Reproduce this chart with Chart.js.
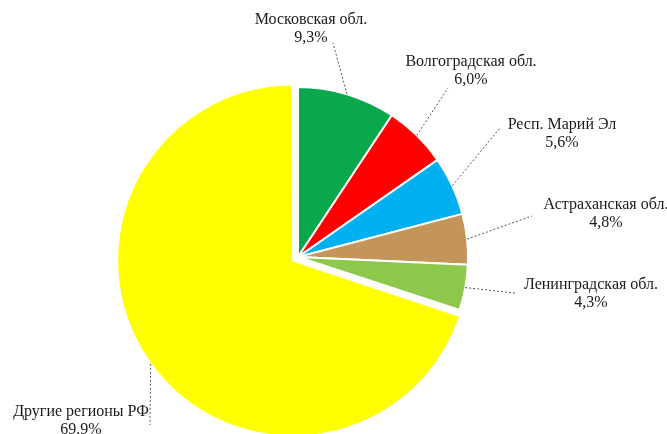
<!DOCTYPE html>
<html>
<head>
<meta charset="utf-8">
<script src="https://cdn.jsdelivr.net/npm/chart.js@4"></script>
<style>
  body { margin: 0; background: #fff; }
  canvas { display: block; }
</style>
</head>
<body>
<canvas id="pieChart" width="667" height="434"></canvas>
<script>
// Регионы и их доли, %
var regions = ['Московская обл.', 'Волгоградская обл.', 'Респ. Марий Эл', 'Астраханская обл.', 'Ленинградская обл.', 'Другие регионы РФ'];
var shares = [9.3, 6.0, 5.6, 4.8, 4.3, 69.9];
var sliceColors = ['#0aa84c', '#ff0000', '#00b0f0', '#c4955a', '#8dc84c', '#ffff00'];
var sliceOffsets = [0, 0, 0, 0, 0, 24];

// Положение подписей (центр первой строки) и конец выносной линии
var labelPos = [[311, 20], [471, 62], [562, 125], [606, 205], [591, 285], [81, 412]];
var leaderEnd = [[333, 43], [448, 88], [500, 128], [532, 216], [515, 293], [150, 425]];

function formatShare(v) {
  return v.toFixed(1).replace('.', ',') + '%';
}

// Плагин для подписей с пунктирными выносками
var leaderLabels = {
  id: 'leaderLabels',
  afterDatasetsDraw: function (chart) {
    var ctx = chart.ctx;
    var meta = chart.getDatasetMeta(0);
    ctx.save();
    meta.data.forEach(function (arc, i) {
      var p = arc.getProps(['x', 'y', 'startAngle', 'endAngle', 'outerRadius', 'circumference'], true);
      var mid = (p.startAngle + p.endAngle) / 2;
      // сдвиг сектора так же, как его рисует Chart.js
      var off = sliceOffsets[i] / 4;
      var fix = 1 - Math.sin(Math.min(Math.PI, p.circumference || 0));
      var shift = off + off * fix;
      var sx = p.x + Math.cos(mid) * (p.outerRadius + shift);
      var sy = p.y + Math.sin(mid) * (p.outerRadius + shift);

      ctx.beginPath();
      ctx.setLineDash([2, 2]);
      ctx.strokeStyle = '#555';
      ctx.lineWidth = 1;
      ctx.moveTo(sx, sy);
      ctx.lineTo(leaderEnd[i][0], leaderEnd[i][1]);
      ctx.stroke();
      ctx.setLineDash([]);

      ctx.fillStyle = '#1a1a1a';
      ctx.font = '16px "Liberation Serif", "Times New Roman", serif';
      ctx.textAlign = 'center';
      ctx.textBaseline = 'middle';
      ctx.fillText(regions[i], labelPos[i][0], labelPos[i][1]);
      ctx.fillText(formatShare(shares[i]), labelPos[i][0], labelPos[i][1] + 18);
    });
    ctx.restore();
  }
};

var ctx = document.getElementById('pieChart').getContext('2d');
var pieChart = new Chart(ctx, {
  type: 'pie',
  data: {
    labels: regions,
    datasets: [
      {
        data: shares,
        backgroundColor: sliceColors,
        borderColor: '#ffffff',
        borderWidth: 2,
        offset: sliceOffsets
      }
    ]
  },
  options: {
    responsive: false,
    animation: false,
    radius: 170,
    layout: {
      padding: { left: 0, top: 80, right: 71, bottom: 0 }
    },
    plugins: {
      legend: { display: false },
      tooltip: { enabled: false }
    }
  },
  plugins: [leaderLabels]
});
</script>
</body>
</html>
